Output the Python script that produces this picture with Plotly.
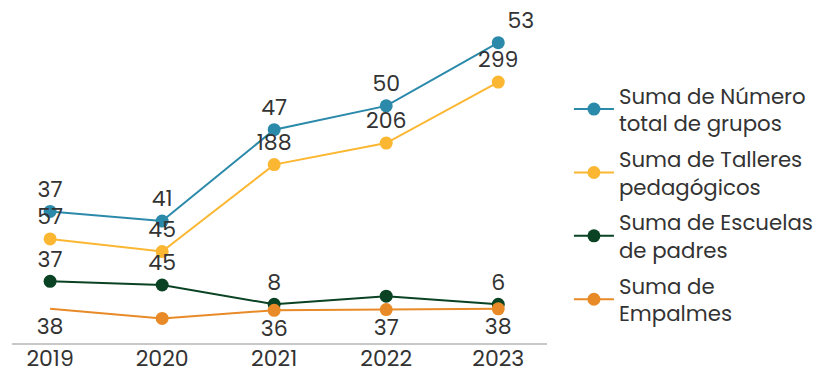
import numpy as np
import plotly.graph_objects as go

years = ["2019", "2020", "2021", "2022", "2023"]

# Series values (stacked bottom to top: empalmes, escuelas, talleres, grupos)
empalmes = [38, 25, 36, 37, 38]
escuelas = [37, 45, 8, 18, 6]
talleres = [57, 45, 188, 206, 299]
grupos = [37, 41, 47, 50, 53]

# Visible data labels
lbl_empalmes = ["38", "", "36", "37", "38"]
lbl_escuelas = ["37", "45", "8", "", "6"]
lbl_talleres = ["57", "45", "188", "206", "299"]
lbl_grupos = ["37", "41", "47", "50", "53"]

names = {
    "grupos": "Suma de Número<br>total de grupos",
    "talleres": "Suma de Talleres<br>pedagógicos",
    "escuelas": "Suma de Escuelas<br>de padres",
    "empalmes": "Suma de<br>Empalmes",
}
colors = {
    "grupos": "#2b89aa",
    "talleres": "#fbb731",
    "escuelas": "#0a4323",
    "empalmes": "#e88a27",
}

FONT = "Poppins, Lato, sans-serif"
TXT = "#333333"
FS = 22

# cumulative stacking
stack = np.cumsum(np.array([empalmes, escuelas, talleres, grupos]), axis=0)
stacked = {"empalmes": stack[0], "escuelas": stack[1], "talleres": stack[2], "grupos": stack[3]}

fig = go.Figure()

def add(key, labels, pos, hide_first=False):
    kw = {}
    if hide_first:
        kw = dict(selectedpoints=[1, 2, 3, 4],
                  selected=dict(marker=dict(opacity=1)),
                  unselected=dict(marker=dict(opacity=0), textfont=dict(color=TXT)))
    fig.add_trace(go.Scatter(
        x=years, y=stacked[key], name=names[key], legendgroup=key,
        mode="lines+markers+text",
        line=dict(color=colors[key], width=2),
        marker=dict(color=colors[key], size=13),
        text=labels, textposition=pos, cliponaxis=False,
        textfont=dict(size=FS, color=TXT, family=FONT),
        hoverinfo="x+text", **kw,
    ))

add("grupos", lbl_grupos, ["top center"] * 4 + ["top right"])
add("talleres", lbl_talleres, "top center")
add("escuelas", lbl_escuelas, "top center")
add("empalmes", lbl_empalmes, "bottom center", hide_first=True)

fig.update_layout(
    width=825, height=370,
    margin=dict(l=4, r=286, t=12, b=35, autoexpand=False),
    plot_bgcolor="white", paper_bgcolor="white",
    font=dict(family=FONT, color=TXT, size=FS),
    showlegend=True,
    legend=dict(
        x=1.041, y=0.83, xanchor="left", yanchor="top",
        traceorder="grouped", tracegroupgap=5,
        font=dict(size=21.3, color=TXT, family=FONT),
        itemwidth=40, maxheight=1,
    ),
    xaxis=dict(
        type="category", range=[-0.34, 4.435], automargin=False,
        showline=True, linecolor="#c8c8c8", linewidth=2,
        showgrid=False, ticks="", zeroline=False, ticklabelstandoff=-5,
        tickfont=dict(size=FS, color=TXT, family=FONT),
    ),
    yaxis=dict(
        range=[-8, 426.5], visible=False, showgrid=False, zeroline=False,
        automargin=False,
    ),
)

fig.write_html("out.html")
